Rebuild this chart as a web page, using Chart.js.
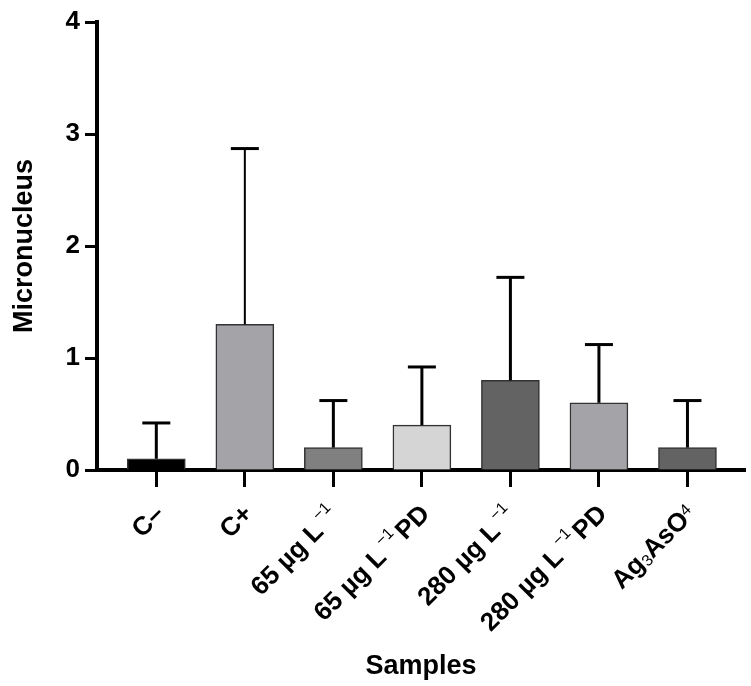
<!DOCTYPE html>
<html>
<head>
<meta charset="utf-8">
<script src="https://cdn.jsdelivr.net/npm/chart.js@4.4.1/dist/chart.umd.min.js"></script>
<style>
  html, body { margin: 0; padding: 0; background: #fff; }
  #wrap { width: 751px; height: 686px; }
</style>
</head>
<body>
<div id="wrap"><canvas id="chart"></canvas></div>
<script>
// data
// each label is a list of [text, kind] pieces; kind: '' normal, 'sup', 'sub', 'small'
const sampleLabels = [
  [["C\u2013", ""]],
  [["C+", ""]],
  [["65 µg L", ""], ["\u22121", "sup"]],
  [["65 µg L", ""], ["\u22121", "sup"], ["PD", ""]],
  [["280 µg L", ""], ["\u22121", "sup"]],
  [["280 µg L", ""], ["\u22121", "sup"], ["PD", ""]],
  [["Ag", ""], ["3", "sub"], ["AsO", ""], ["4", "small"]]
];
const means = [0.1, 1.3, 0.2, 0.4, 0.8, 0.6, 0.2];
const errors = [0.32, 1.57, 0.42, 0.52, 0.92, 0.52, 0.42];
const barColors = ["#000000", "#a4a4a8", "#808080", "#d5d5d5", "#636363", "#a4a4a8", "#636363"];
const yTicks = [0, 1, 2, 3, 4];

const FONT = "'Liberation Sans', Arial, sans-serif";

// error bars (upper only, like the original)
const errorBars = {
  id: 'errorBars',
  afterDatasetsDraw(chart) {
    const ctx = chart.ctx;
    const xs = chart.scales.x, ys = chart.scales.y;
    ctx.save();
    ctx.strokeStyle = '#000';
    means.forEach((m, i) => {
      const x = xs.getPixelForValue(i);
      const y0 = ys.getPixelForValue(m);
      const y1 = ys.getPixelForValue(m + errors[i]);
      ctx.lineWidth = i === 1 ? 2 : 3;
      ctx.beginPath();
      ctx.moveTo(x, y0);
      ctx.lineTo(x, y1);
      ctx.stroke();
      ctx.lineWidth = 3;
      ctx.beginPath();
      ctx.moveTo(x - 14, y1);
      ctx.lineTo(x + 14, y1);
      ctx.stroke();
    });
    ctx.restore();
  }
};

// rotated x labels with super/subscripts
function pieceFont(kind) {
  if (kind === '') return "bold 26px " + FONT;
  return "16px " + FONT;
}
function pieceShift(kind) {
  if (kind === 'sup') return -5;
  if (kind === 'sub') return 10;
  if (kind === 'small') return 1;
  return 0;
}
function pieceGaps(kind) {
  return kind === 'sup' ? [4, 3] : [0, 0];
}
const xLabels = {
  id: 'xLabels',
  afterDraw(chart) {
    const ctx = chart.ctx;
    const xs = chart.scales.x;
    const top = xs.top + 31;
    ctx.save();
    ctx.fillStyle = '#000';
    ctx.textBaseline = 'top';
    ctx.textAlign = 'left';
    sampleLabels.forEach((parts, i) => {
      const x = xs.getPixelForValue(i) - 5;
      let total = 0;
      const widths = parts.map(([t, k]) => {
        ctx.font = pieceFont(k);
        const g = pieceGaps(k);
        const w = ctx.measureText(t).width + g[0] + g[1];
        total += w;
        return w;
      });
      ctx.save();
      ctx.translate(x, top);
      ctx.rotate(-Math.PI / 4);
      let cx = -total;
      parts.forEach(([t, k], j) => {
        ctx.font = pieceFont(k);
        ctx.fillText(t, cx + pieceGaps(k)[0], pieceShift(k));
        cx += widths[j];
      });
      ctx.restore();
    });
    ctx.restore();
  }
};

new Chart(document.getElementById('chart'), {
  type: 'bar',
  data: {
    datasets: [{
      data: means.map((v, i) => ({ x: i, y: v })),
      backgroundColor: barColors,
      borderColor: '#333',
      borderWidth: 1.5,
      borderSkipped: 'start',
      barThickness: 58
    }]
  },
  options: {
    responsive: true,
    maintainAspectRatio: false,
    animation: false,
    layout: { padding: { top: 22, right: 6, bottom: 3, left: 0 } },
    plugins: { legend: { display: false }, tooltip: { enabled: false } },
    scales: {
      x: {
        type: 'linear',
        min: -0.67,
        max: 6.65,
        offset: false,
        z: 1,
        afterBuildTicks: s => { s.ticks = sampleLabels.map((_, i) => ({ value: i })); },
        afterFit: s => { s.height = 213; },
        grid: { offset: false, drawOnChartArea: false, drawTicks: true, tickLength: 17, tickWidth: 3, tickColor: '#000' },
        border: { display: true, width: 4, color: '#000' },
        ticks: { display: false },
        title: {
          display: true,
          text: 'Samples',
          color: '#000',
          font: { family: FONT, size: 27, weight: 'bold' },
          padding: { top: 4, bottom: 0 }
        }
      },
      y: {
        min: 0,
        max: 4,
        z: 1,
        afterBuildTicks: s => { s.ticks = yTicks.map(v => ({ value: v })); },
        afterFit: s => { s.width = 97; },
        grid: { drawOnChartArea: false, drawTicks: true, tickLength: 12, tickWidth: 3, tickColor: '#000' },
        border: { display: true, width: 4, color: '#000' },
        ticks: {
          padding: 5,
          color: '#000',
          font: { family: FONT, size: 26, weight: 'bold' }
        },
        title: {
          display: true,
          text: 'Micronucleus',
          color: '#000',
          font: { family: FONT, size: 27, weight: 'bold' },
          padding: { top: 8, bottom: 0 }
        }
      }
    }
  },
  plugins: [errorBars, xLabels]
});
</script>
</body>
</html>
